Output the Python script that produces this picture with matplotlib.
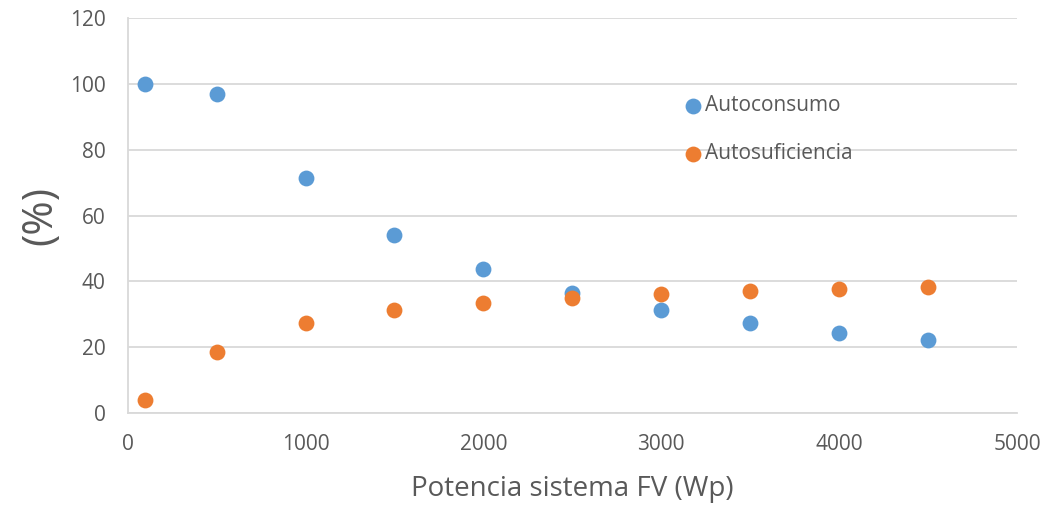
import matplotlib
matplotlib.use("Agg")
import matplotlib.pyplot as plt

# Installed capacity of the PV system (Wp)
potencia = [100, 500, 1000, 1500, 2000, 2500, 3000, 3500, 4000, 4500]
# Self-consumption and self-sufficiency ratios (%)
autoconsumo = [100.0, 96.9, 71.4, 54.1, 43.7, 36.6, 31.4, 27.5, 24.5, 22.1]
autosuficiencia = [3.9, 18.6, 27.4, 31.2, 33.6, 35.1, 36.2, 37.0, 37.6, 38.3]

x_ticks = [0, 1000, 2000, 3000, 4000, 5000]
y_ticks = [0, 20, 40, 60, 80, 100, 120]

BLUE = "#5B9BD5"
ORANGE = "#ED7D31"
TEXT = "#595959"
GRID = "#D9D9D9"

plt.rcParams["font.family"] = ["Open Sans", "DejaVu Sans"]

W, H = 1045, 505
fig = plt.figure(figsize=(W / 100, H / 100), dpi=100)
left, right, top, bottom = 127.7, 1017, 17.7, 413.3
ax = fig.add_axes([left / W, 1 - bottom / H, (right - left) / W, (bottom - top) / H])

ax.scatter(potencia, autoconsumo, s=130, color=BLUE, label="Autoconsumo", zorder=3, linewidths=0)
ax.scatter(potencia, autosuficiencia, s=130, color=ORANGE, label="Autosuficiencia", zorder=3, linewidths=0)

ax.set_xlim(0, 5000)
ax.set_ylim(0, 120)
ax.set_xticks(x_ticks)
ax.set_yticks(y_ticks)
ax.tick_params(axis="both", length=0, labelsize=15, labelcolor=TEXT)
ax.tick_params(axis="x", pad=15)
ax.tick_params(axis="y", pad=16)

ax.grid(axis="y", color=GRID, linewidth=1.3)
ax.set_axisbelow(True)
for side in ["top", "right"]:
    ax.spines[side].set_visible(False)
for side in ["left", "bottom"]:
    ax.spines[side].set_color(GRID)
    ax.spines[side].set_linewidth(1.3)

ax.set_xlabel("Potencia sistema FV (Wp)", fontsize=20, color=TEXT, labelpad=14)
ax.set_ylabel("(%)", fontsize=30, color=TEXT, labelpad=6)

leg = ax.legend(loc="upper left", bbox_to_anchor=((682 - left) / (right - left), 1 - (95 - top) / (bottom - top)),
                frameon=False, fontsize=15, labelspacing=1.3, handletextpad=0.0,
                handlelength=1.1, borderaxespad=0, borderpad=0)
for t in leg.get_texts():
    t.set_color(TEXT)

fig.savefig("out.png", dpi=100)
